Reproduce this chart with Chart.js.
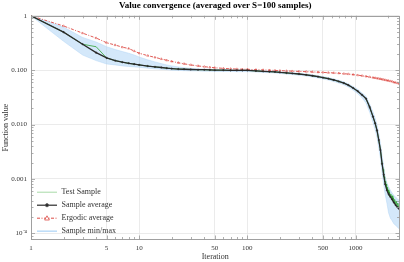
<!DOCTYPE html>
<html><head><meta charset="utf-8">
<script src="https://cdn.jsdelivr.net/npm/chart.js@4.4.1/dist/chart.umd.min.js"></script>
<style>html,body{margin:0;padding:0;background:#fff}canvas{display:block}</style>
</head><body>
<canvas id="c" width="404" height="262"></canvas>
<script>
const iterations = [1,2,3,4,5,6,7,8,9,10,12,14,16,18,20,23,26,30,35,40,45,50,60,70,80,90,100,120,140,160,180,200,230,260,300,350,400,450,500,560,630,700,780,860,950,1050,1150,1250,1350,1450,1520,1580,1640,1700,1760,1820,1880,1950,2020,2100,2180,2260,2350,2450,2540];
const sampleAverage = [1.0,0.5,0.3,0.21,0.168,0.15,0.14,0.134,0.129,0.125,
 0.119,0.115,0.112,0.109,0.107,
 0.105,0.104,0.103,0.102,0.102,0.101,0.100,
 0.100,0.099,0.099,0.099,0.099,
 0.097,0.095,0.094,0.093,0.091,
 0.089,0.087,0.085,0.082,0.079,0.076,0.073,
 0.070,0.066,0.062,0.058,0.053,0.047,
 0.041,0.035,0.030,0.021,0.014,
 0.0105,0.0078,0.0052,0.0034,0.0019,0.0012,0.0008,0.00062,
 0.00053,0.00047,0.00042,0.00037,0.00033,0.0003,0.00028];
const ergodicAverage = [1.0,0.65,0.48,0.39,0.32,0.29,0.265,0.25,0.225,0.205,
 0.185,0.172,0.161,0.152,0.145,
 0.137,0.131,0.125,0.12,0.116,0.113,0.111,
 0.108,0.106,0.105,0.104,0.104,
 0.102,0.101,0.100,0.099,0.098,
 0.097,0.096,0.095,0.094,0.093,0.092,0.091,
 0.090,0.089,0.088,0.086,0.085,0.083,
 0.081,0.079,0.077,0.075,0.073,
 0.072,0.071,0.070,0.069,0.068,0.067,0.066,0.065,
 0.064,0.063,0.062,0.060,0.059,0.058,0.056];
const sampleMin = [1.0,0.34,0.19,0.15,0.13,0.125,0.12,0.117,0.115,0.113,
 0.109,0.106,0.104,0.102,0.1,
 0.099,0.098,0.097,0.097,0.096,0.096,0.095,
 0.095,0.095,0.094,0.094,0.094,
 0.093,0.091,0.09,0.089,0.087,
 0.085,0.083,0.081,0.078,0.075,0.072,0.069,
 0.066,0.062,0.058,0.054,0.049,0.043,
 0.037,0.031,0.025,0.017,0.011,
 0.0080,0.0058,0.0037,0.0024,0.0013,0.00080,0.00052,0.00036,
 0.00024,0.00019,0.00017,0.00015,0.00014,0.00013,0.00012];
const sampleMax = [1.0,0.62,0.40,0.33,0.27,0.24,0.22,0.205,0.19,0.175,
 0.155,0.142,0.132,0.125,0.12,
 0.115,0.111,0.108,0.106,0.105,0.104,0.103,
 0.103,0.102,0.102,0.102,0.102,
 0.100,0.098,0.097,0.096,0.094,
 0.092,0.090,0.088,0.085,0.082,0.079,0.076,
 0.073,0.069,0.065,0.061,0.056,0.050,
 0.044,0.038,0.033,0.024,0.017,
 0.013,0.0098,0.0068,0.0045,0.0027,0.0017,0.0011,0.00085,
 0.00072,0.00062,0.00055,0.00050,0.00046,0.00043,0.00040];
const testIterations = [1,2,3,4,5,6,7,8,9,10,12,14,16,18,20,23,26,30,35,40,45,50,60,70,80,90,100,120,140,160,180,200,230,260,300,350,400,450,500,560,630,700,780,860,950,1050,1150,1250,1350,1450,1520,1580,1640,1700,1760,1800,1820,1840,1860,1880,1900,1920,1940,1960,1980,2000,2030,2060,2090,2120,2150,2180,2210,2240,2270,2300,2340,2380,2420,2460,2500,2540];
const testSample = [1.0,0.5,0.3,0.27,0.168,0.15,0.14,0.134,0.129,0.125,
 0.119,0.115,0.112,0.109,0.107,
 0.105,0.104,0.103,0.102,0.102,0.101,0.100,
 0.100,0.099,0.099,0.099,0.099,
 0.097,0.095,0.094,0.093,0.091,
 0.089,0.087,0.085,0.082,0.079,0.076,0.073,
 0.070,0.066,0.062,0.058,0.053,0.047,
 0.041,0.035,0.030,0.021,0.014,
 0.0105,0.0078,0.0052,0.0034,0.0019,
 0.0015,0.0011,0.0011,0.00088,0.00090,0.00074,0.00080,0.00064,0.00070,0.00057,0.00063,
 0.00050,0.00058,0.00046,0.00053,0.00042,0.00049,0.00039,0.00045,0.00036,0.00042,
 0.00034,0.00039,0.00031,0.00036,0.00029,0.00032];
const xTickValues = [1,5,10,50,100,500,1000];
const xTickLabels = ['1','5','10','50','100','500','1000'];
const yTickValues = [1e-4,1e-3,1e-2,0.1,1];
const yTickLabels = ['10\u207B\u2074','0.001','0.010','0.100','1'];
const legendLabels = ['Test Sample','Sample average','Ergodic average','Sample min/max'];
const titleText = 'Value convergence (averaged over S=100 samples)';

const pts = (xs, ys) => xs.map((x, i) => ({x: x, y: ys[i]}));
const SERIF = '"Liberation Serif", "Times New Roman", serif';

const C_GREEN = 'rgba(40,160,40,0.75)';
const C_GREEN_LEG = 'rgba(60,170,60,0.45)';
const C_BLACK = '#2b2b2b';
const C_RED = '#dc4a44';
const C_BAND = 'rgba(170,210,245,0.5)';
const C_BANDLINE = 'rgba(170,210,245,0.7)';

const frameTicks = {
  id: 'frameTicks',
  afterDraw(chart) {
    const ctx = chart.ctx, a = chart.chartArea;
    const xs = chart.scales.x, ys = chart.scales.y;
    ctx.save();
    // title centred over plot area
    ctx.font = 'bold 9px ' + SERIF;
    ctx.fillStyle = '#000';
    ctx.textAlign = 'center';
    ctx.textBaseline = 'middle';
    ctx.fillText(titleText, (a.left + a.right) / 2, 5.5);

    ctx.strokeStyle = '#a0a0a0';
    ctx.lineWidth = 1;
    ctx.strokeRect(Math.round(a.left) + 0.5, Math.round(a.top) + 0.5, Math.round(a.right - a.left) - 1, Math.round(a.bottom - a.top) - 1);
    ctx.strokeStyle = '#9a9a9a';
    ctx.lineWidth = 0.8;
    ctx.beginPath();
    for (let d = 1; d <= 1000; d *= 10) {
      for (let k = 1; k <= 9; k++) {
        const v = k * d;
        if (v > xs.max) continue;
        const major = xTickValues.includes(v);
        const len = major ? 4 : 2.5;
        const px = Math.round(xs.getPixelForValue(v)) + 0.5;
        ctx.moveTo(px, a.bottom); ctx.lineTo(px, a.bottom - len);
        ctx.moveTo(px, a.top); ctx.lineTo(px, a.top + len);
      }
    }
    for (let e = -5; e <= 0; e++) {
      for (let k = 1; k <= 9; k++) {
        const v = k * Math.pow(10, e);
        if (v < ys.min || v > ys.max * 1.0001) continue;
        const len = k === 1 ? 4 : 2.5;
        const py = Math.round(ys.getPixelForValue(v)) + 0.5;
        ctx.moveTo(a.left, py); ctx.lineTo(a.left + len, py);
        ctx.moveTo(a.right, py); ctx.lineTo(a.right - len, py);
      }
    }
    ctx.stroke();

    // legend
    const x0 = a.left + 6, x1 = a.left + 26, tx = a.left + 30.5;
    ctx.font = '8px ' + SERIF;
    ctx.textBaseline = 'middle';
    ctx.textAlign = 'left';
    legendLabels.forEach((lab, i) => {
      const y = a.bottom - 8.3 - 13 * (3 - i);
      ctx.setLineDash([]);
      if (i === 0) { ctx.strokeStyle = C_GREEN_LEG; ctx.lineWidth = 1; }
      if (i === 1) { ctx.strokeStyle = C_BLACK; ctx.lineWidth = 1.2; }
      if (i === 2) { ctx.strokeStyle = C_RED; ctx.lineWidth = 1; ctx.setLineDash([3, 1.5, 1, 1.5]); }
      if (i === 3) { ctx.strokeStyle = 'rgba(170,210,245,0.8)'; ctx.lineWidth = 1.5; }
      ctx.beginPath(); ctx.moveTo(x0, y); ctx.lineTo(x1, y); ctx.stroke();
      ctx.setLineDash([]);
      const mx = (x0 + x1) / 2;
      if (i === 1) {
        ctx.fillStyle = C_BLACK; ctx.strokeStyle = '#555'; ctx.lineWidth = 0.8;
        ctx.beginPath(); ctx.arc(mx, y, 1.6, 0, Math.PI * 2); ctx.fill(); ctx.stroke();
      }
      if (i === 2) {
        ctx.fillStyle = '#fff'; ctx.strokeStyle = C_RED; ctx.lineWidth = 0.8;
        ctx.beginPath(); ctx.moveTo(mx, y - 2.4); ctx.lineTo(mx + 2.4, y + 1.8); ctx.lineTo(mx - 2.4, y + 1.8); ctx.closePath(); ctx.fill(); ctx.stroke();
      }
      ctx.fillStyle = '#333';
      ctx.fillText(lab, tx, y);
    });
    ctx.restore();
  }
};

new Chart(document.getElementById('c'), {
  type: 'line',
  data: {
    datasets: [
      { label: legendLabels[1], data: pts(iterations, sampleAverage), borderColor: C_BLACK, borderWidth: 1.3, pointRadius: 0.8, pointStyle: 'circle', pointBackgroundColor: C_BLACK, pointBorderColor: C_BLACK, pointBorderWidth: 0.4, fill: false, tension: 0 },
      { label: legendLabels[0], data: pts(testIterations, testSample), borderColor: C_GREEN, borderWidth: 1, pointRadius: 0, fill: false, tension: 0 },
      { label: legendLabels[2], data: pts(iterations, ergodicAverage), borderColor: C_RED, borderWidth: 0.9, borderDash: [3, 1.5, 1, 1.5], pointRadius: 1.2, pointStyle: 'triangle', pointBackgroundColor: 'rgba(255,255,255,0)', pointBorderColor: C_RED, pointBorderWidth: 0.5, fill: false, tension: 0 },
      { label: 'max', data: pts(iterations, sampleMax), borderColor: C_BANDLINE, borderWidth: 0.6, pointRadius: 0, fill: '+1', backgroundColor: C_BAND, tension: 0 },
      { label: 'min', data: pts(iterations, sampleMin), borderColor: C_BANDLINE, borderWidth: 0.6, pointRadius: 0, fill: false, tension: 0 }
    ]
  },
  options: {
    responsive: false,
    animation: false,
    devicePixelRatio: 1,
    events: [],
    layout: { padding: { left: 0, right: 3, top: 15.8, bottom: 0 } },
    plugins: {
      legend: { display: false },
      tooltip: { enabled: false },
      title: { display: false }
    },
    scales: {
      x: {
        type: 'logarithmic', min: 1, max: 2550,
        border: { display: false },
        grid: { color: '#e6e6e6', lineWidth: 0.8, drawTicks: false },
        afterBuildTicks: s => { s.ticks = xTickValues.map(v => ({ value: v })); },
        afterFit: s => { s.height = 22.5; },
        ticks: { autoSkip: false, maxRotation: 0, padding: 4, color: '#333', font: { family: SERIF, size: 7 },
          callback: (v) => { const i = xTickValues.indexOf(v); return i >= 0 ? xTickLabels[i] : ''; } },
        title: { display: true, text: 'Iteration', color: '#333', font: { family: SERIF, size: 8 }, padding: { top: 0, bottom: 0 } }
      },
      y: {
        type: 'logarithmic', min: 7.7e-5, max: 1,
        border: { display: false },
        grid: { color: '#e6e6e6', lineWidth: 0.8, drawTicks: false },
        afterBuildTicks: s => { s.ticks = yTickValues.map(v => ({ value: v })); },
        afterFit: s => { s.width = 31; },
        ticks: { autoSkip: false, padding: 4, color: '#333', font: { family: SERIF, size: 7 },
          callback: (v) => { const i = yTickValues.findIndex(t => Math.abs(t - v) / t < 1e-6); return i >= 0 ? yTickLabels[i] : ''; } },
        title: { display: true, text: 'Function value', color: '#333', font: { family: SERIF, size: 8 }, padding: { top: 1, bottom: 0 } }
      }
    }
  },
  plugins: [frameTicks]
});
</script></body></html>
